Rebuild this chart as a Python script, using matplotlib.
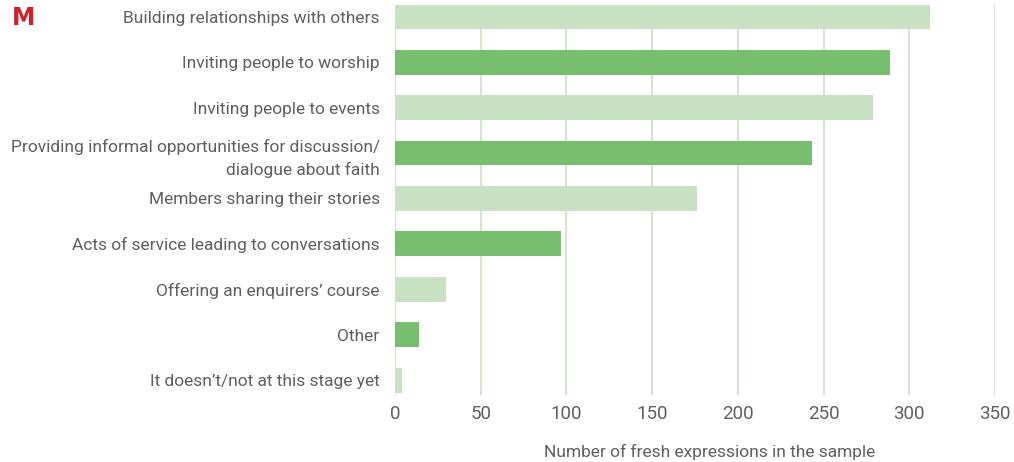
import matplotlib.pyplot as plt
from matplotlib import font_manager

categories = ['Building relationships with others',
              'Inviting people to worship',
              'Inviting people to events',
              'Providing informal opportunities for discussion/\ndialogue about faith',
              'Members sharing their stories',
              'Acts of service leading to conversations',
              "Offering an enquirers\u2019 course",
              'Other',
              "It doesn\u2019t/not at this stage yet"]
counts = [312, 289, 279, 243, 176, 97, 30, 14, 4]
ticks = [0, 50, 100, 150, 200, 250, 300, 350]

names = {f.name for f in font_manager.fontManager.ttflist}
family = 'Liberation Sans Narrow' if 'Liberation Sans Narrow' in names else 'Roboto'
plt.rcParams['font.family'] = [family, 'DejaVu Sans']

light = '#c8e1c2'
dark = '#78be6f'
grey = '#5f5f5f'

fig = plt.figure(figsize=(10.14, 4.62), dpi=100)
ax = fig.add_axes([395 / 1014, 67 / 462, 600 / 1014, 390 / 462])

# alternate light / dark bars down the list
colors = [light if i % 2 == 0 else dark for i in range(len(counts))]
ax.barh(range(len(counts)), counts, height=0.55, color=colors, zorder=2)

ax.set_xlim(0, 350)
ax.set_ylim(8.33, -0.26)
ax.set_xticks(ticks)
ax.set_xticklabels([str(t) for t in ticks], fontsize=13.5, color=grey)
ax.set_yticks(range(len(categories)))
ax.set_yticklabels(categories, fontsize=12.5, color=grey, linespacing=1.55)
ax.tick_params(length=0, axis='x', pad=7)
ax.tick_params(length=0, axis='y', pad=11)
ax.grid(axis='x', color=light, linewidth=1.2, zorder=1)
for s in ax.spines.values():
    s.set_visible(False)

ax.set_xlabel('Number of fresh expressions in the sample', fontsize=12.5,
              color=grey)
ax.xaxis.set_label_coords(0.525, -0.145)
ax.xaxis.label.set_va('center')

fig.text(12 / 1014, 1 - 18 / 462, 'M', color='#d0202a', fontsize=17,
         fontweight='bold', va='center', ha='left', family='DejaVu Sans')

fig.savefig('out.png', dpi=100)
